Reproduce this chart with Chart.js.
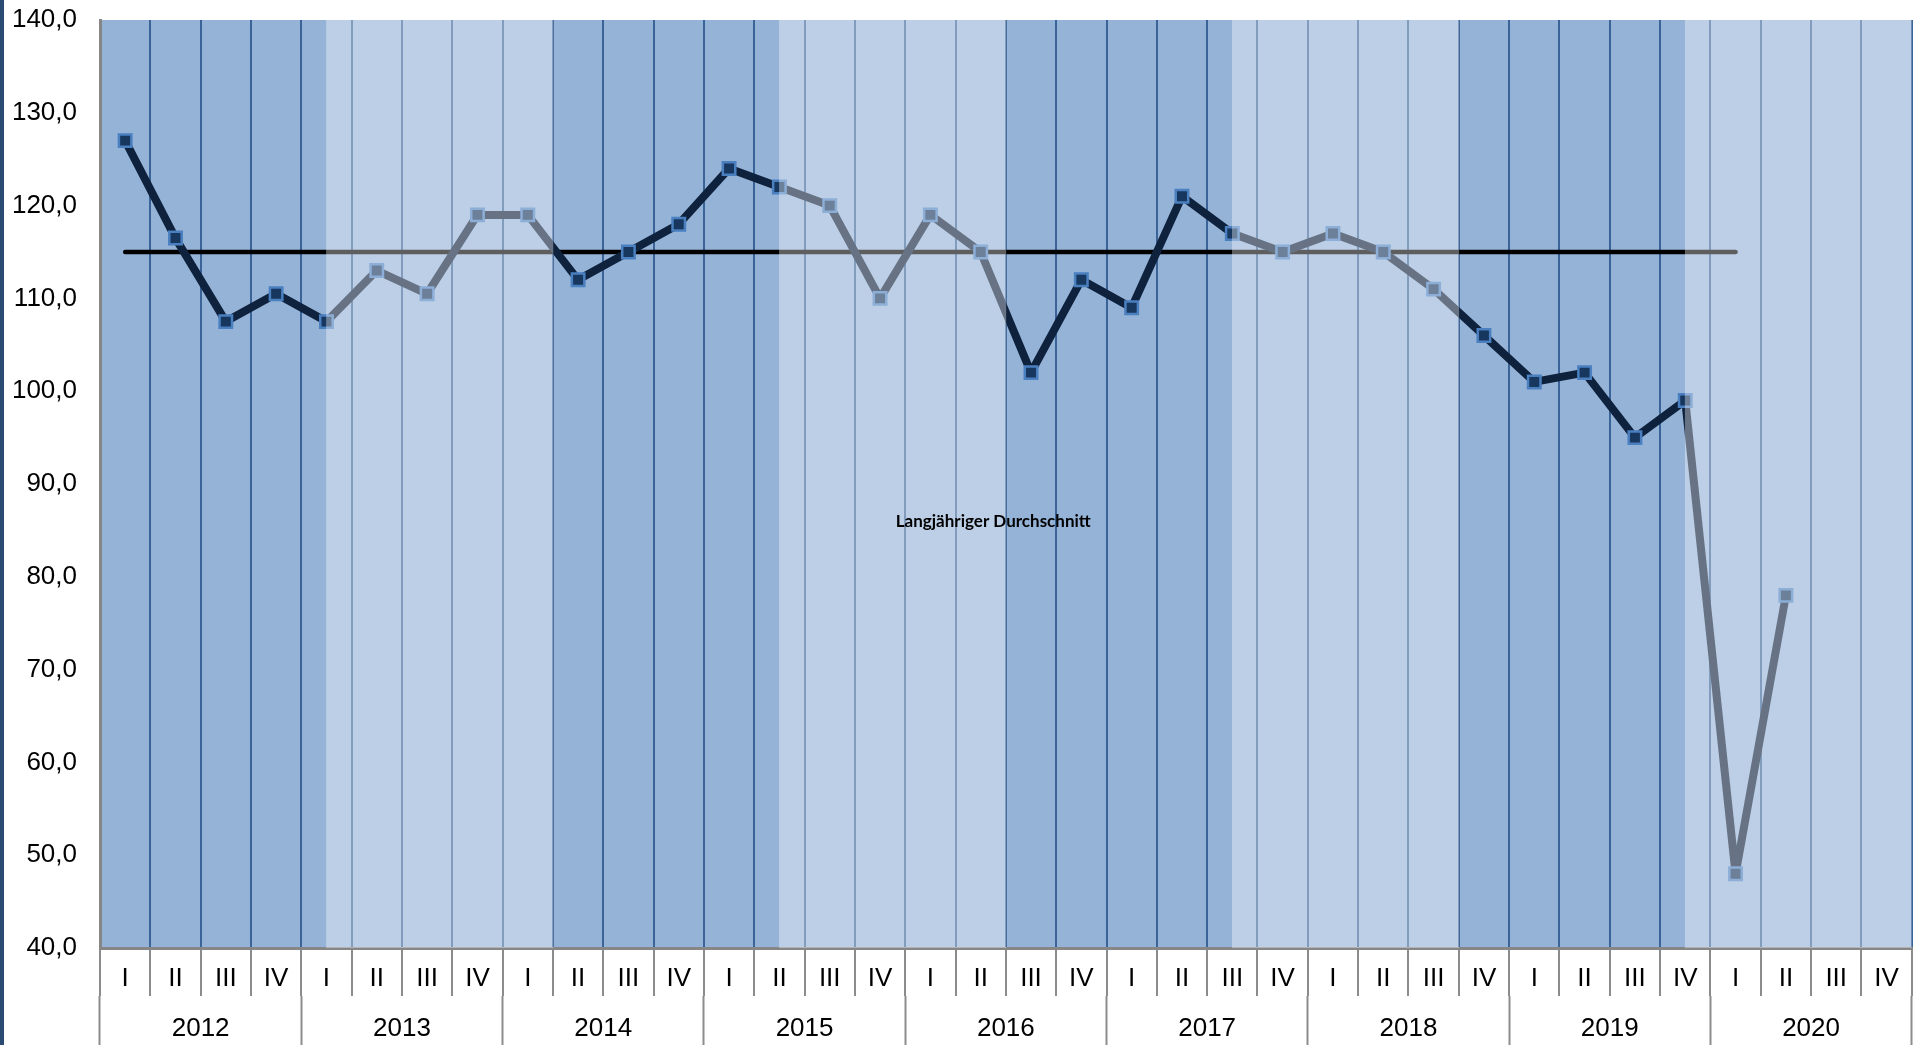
<!DOCTYPE html>
<html>
<head>
<meta charset="utf-8">
<script src="https://cdn.jsdelivr.net/npm/chart.js@4.4.0/dist/chart.umd.min.js"></script>
<style>
  html, body { margin: 0; background: #fff; overflow: hidden; }
  canvas { display: block; }
</style>
</head>
<body>
<canvas id="indexChart" width="1923" height="1045"></canvas>
<script>
// quarter index values 2012-2020
const quarters = ['I', 'II', 'III', 'IV', 'I', 'II', 'III', 'IV', 'I', 'II', 'III', 'IV',
                  'I', 'II', 'III', 'IV', 'I', 'II', 'III', 'IV', 'I', 'II', 'III', 'IV',
                  'I', 'II', 'III', 'IV', 'I', 'II', 'III', 'IV', 'I', 'II', 'III', 'IV'];
const years = ['2012', '2013', '2014', '2015', '2016', '2017', '2018', '2019', '2020'];
const indexValues = [127, 116.5, 107.5, 110.5,
                     107.5, 113, 110.5, 119,
                     119, 112, 115, 118,
                     124, 122, 120, 110,
                     119, 115, 102, 112,
                     109, 121, 117, 115,
                     117, 115, 111, 106,
                     101, 102, 95, 99,
                     48, 78, null, null];
const averageValues = [115, 115, 115, 115, 115, 115, 115, 115, 115, 115, 115, 115,
                       115, 115, 115, 115, 115, 115, 115, 115, 115, 115, 115, 115,
                       115, 115, 115, 115, 115, 115, 115, 115, 115, null, null, null];
// light overlay bands (secondary axis, 8 slots)
const bandSlots = ['b1', 'b2', 'b3', 'b4', 'b5', 'b6', 'b7', 'b8'];
const bandTops = [null, 140, null, 140, null, 140, null, 140];
const yTicks = { min: 40, max: 140, step: 10 };
const labelText = 'Langjähriger Durchschnitt';
const labelAt = { x: 17.25, y: 86.0 };

const fontFamily = '"Liberation Sans", Arial, sans-serif';

// background of plot area + left stripe + text label
const backdrop = {
    id: 'backdrop',
    beforeDraw(chart) {
        const { ctx, chartArea: a } = chart;
        ctx.save();
        ctx.fillStyle = '#95b3d7';
        ctx.fillRect(a.left, a.top, a.right - a.left, a.bottom - a.top);
        ctx.fillStyle = '#2b4a74';
        ctx.fillRect(0, 0, 4, chart.height);
        ctx.restore();
    },
    afterDraw(chart) {
        const { ctx, scales } = chart;
        ctx.save();
        ctx.font = 'bold 17px Lato, "Open Sans", sans-serif';
        ctx.fillStyle = '#000';
        ctx.textAlign = 'center';
        ctx.textBaseline = 'middle';
        ctx.fillText(labelText, scales.x.getPixelForValue(labelAt.x), scales.y.getPixelForValue(labelAt.y));
        ctx.restore();
    }
};

// no side padding from the horizontal axes
function fitX(h) {
    return s => { s.height = h; s.paddingLeft = 0; s.paddingRight = 0; };
}

new Chart(document.getElementById('indexChart').getContext('2d'), {
    type: 'line',
    data: {
        labels: quarters,
        datasets: [{
            type: 'bar',
            label: 'Bänder',
            data: bandTops,
            xAxisID: 'xb',
            yAxisID: 'y',
            backgroundColor: 'rgba(255,255,255,0.37)',
            borderWidth: 0,
            grouped: false,
            barPercentage: 1,
            categoryPercentage: 1,
            order: 0
        }, {
            label: 'Index',
            data: indexValues,
            xAxisID: 'x',
            yAxisID: 'y',
            borderColor: '#0f223d',
            borderWidth: 8,
            borderJoinStyle: 'round',
            tension: 0,
            pointStyle: 'rect',
            pointRadius: 8.8,
            pointBackgroundColor: '#17375e',
            pointBorderColor: '#4a7fc0',
            pointBorderWidth: 2.5,
            order: 1
        }, {
            label: 'Langjähriger Durchschnitt',
            data: averageValues,
            xAxisID: 'x',
            yAxisID: 'y',
            borderColor: '#000',
            borderWidth: 4.5,
            borderCapStyle: 'round',
            pointRadius: 0,
            order: 2
        }]
    },
    options: {
        responsive: false,
        animation: false,
        layout: { padding: { top: 20, right: 2, left: 0, bottom: 0 } },
        plugins: { legend: { display: false }, tooltip: { enabled: false } },
        scales: {
            y: {
                min: yTicks.min,
                max: yTicks.max,
                afterFit(s) { s.width = 100; },
                grid: { drawOnChartArea: false, drawTicks: true, tickLength: 23, tickColor: 'rgba(0,0,0,0)' },
                border: { color: '#868686', width: 3 },
                ticks: {
                    stepSize: yTicks.step,
                    padding: 0,
                    color: '#000',
                    font: { family: fontFamily, size: 26 },
                    callback: v => v.toFixed(1).replace('.', ',')
                }
            },
            x: {
                type: 'category',
                labels: quarters,
                offset: true,
                afterFit: fitX(48),
                grid: { offset: true, color: '#3a6397', lineWidth: 2, tickColor: '#8c8c8c', tickWidth: 2, tickLength: 48 },
                border: { color: '#868686', width: 3 },
                ticks: {
                    padding: -33,
                    maxRotation: 0,
                    autoSkip: false,
                    color: '#000',
                    font: { family: fontFamily, size: 26 }
                }
            },
            xy: {
                type: 'category',
                labels: years,
                position: 'bottom',
                offset: true,
                afterFit: fitX(49),
                grid: { offset: true, drawOnChartArea: false, tickColor: '#8c8c8c', tickWidth: 2, tickLength: 49 },
                border: { display: false },
                ticks: {
                    padding: -32,
                    maxRotation: 0,
                    color: '#000',
                    font: { family: fontFamily, size: 26 }
                }
            },
            xb: {
                type: 'category',
                labels: bandSlots,
                offset: true,
                display: false,
                afterFit: fitX(0),
                ticks: { display: false }
            }
        }
    },
    plugins: [backdrop]
});
</script>
</body>
</html>
